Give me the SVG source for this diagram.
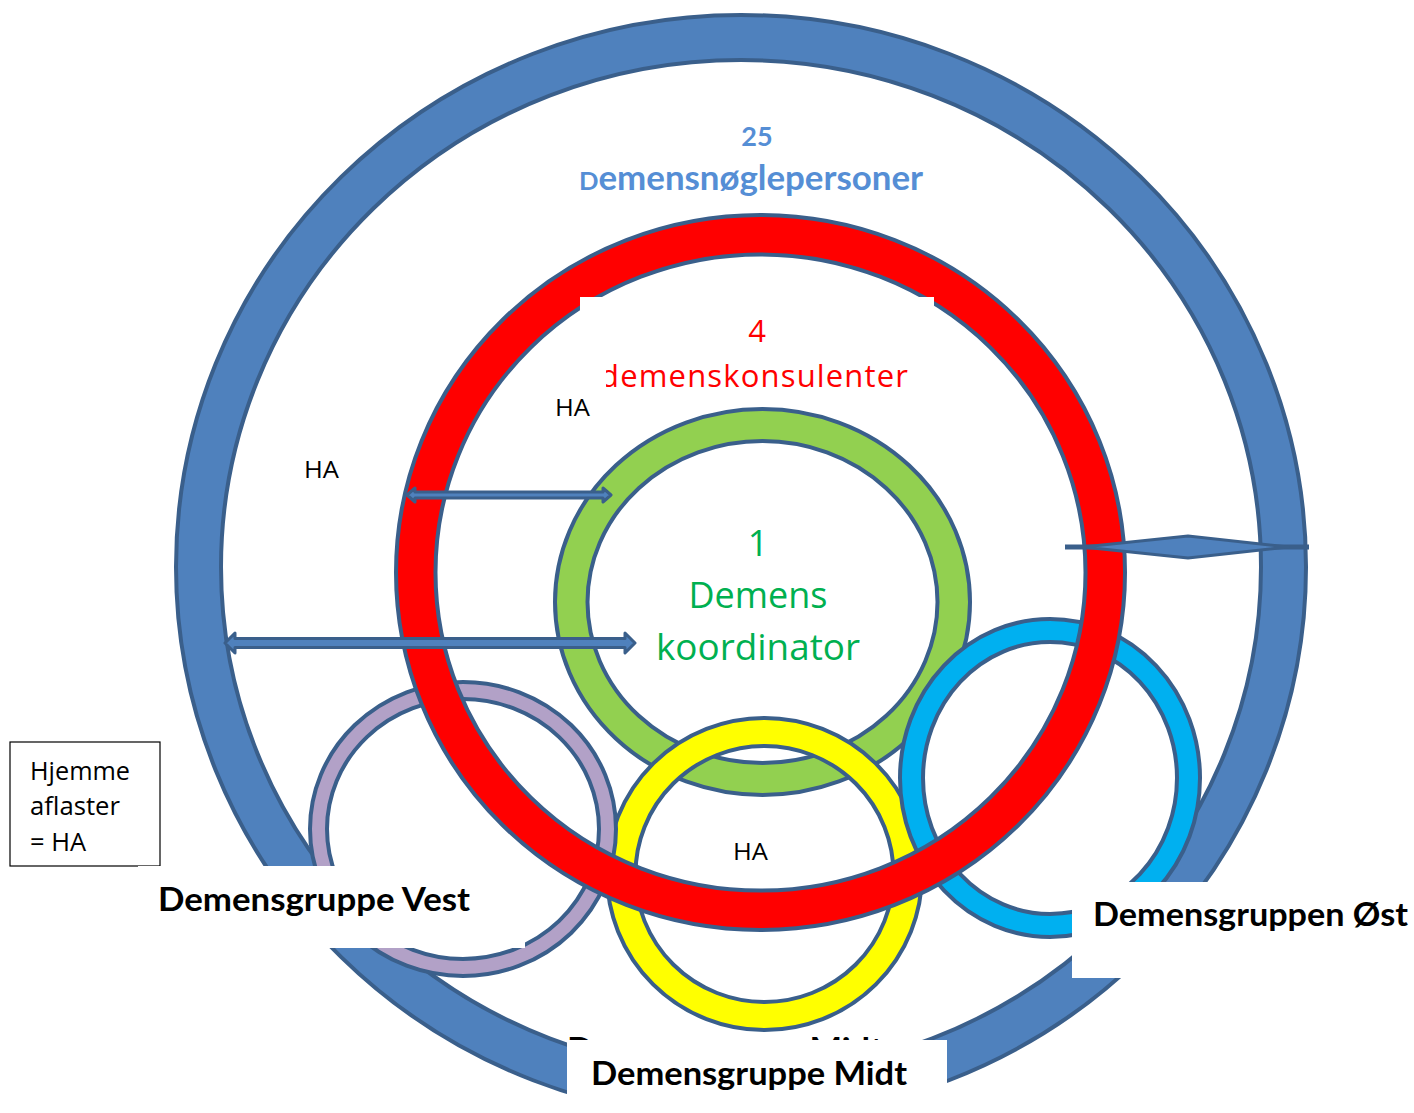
<svg xmlns="http://www.w3.org/2000/svg" width="1414" height="1113" viewBox="0 0 1414 1113">
<style>
.ring{stroke:#3A5F8B;stroke-width:4;fill-rule:evenodd}
.arr{fill:#4F81BD;stroke:#3A5F8B;stroke-width:3;stroke-linejoin:round}
.lbl{font-family:Lato,"Open Sans","Liberation Sans",sans-serif;font-weight:bold;font-size:32px;fill:#000}
.ha{font-family:"Open Sans","Liberation Sans",sans-serif;font-size:23px;fill:#000}
.leg{font-family:"Open Sans","Liberation Sans",sans-serif;font-size:25px;fill:#000}
.blue{font-family:Lato,"Open Sans","Liberation Sans",sans-serif;font-weight:bold;fill:#558ED5}
.red{font-family:"Open Sans","Liberation Sans",sans-serif;fill:#FF0000}
.green{font-family:"Open Sans","Liberation Sans",sans-serif;fill:#00B050;font-size:36px}
.wbox{fill:#FFFFFF}
</style>
<defs>
<clipPath id="clipKons"><rect x="606" y="340" width="320" height="70"/></clipPath>
</defs>
<rect width="1414" height="1113" fill="#FFFFFF"/>

<g id="ring-blue">
<path class="ring" fill="#4F81BD" d="M176,567 a565,552 0 1,0 1130,0 a565,552 0 1,0 -1130,0 Z M221,567 a520,507 0 1,0 1040,0 a520,507 0 1,0 -1040,0 Z"/>
</g>
<g id="ring-green">
<path class="ring" fill="#92D050" d="M555,602 a207.5,193 0 1,0 415,0 a207.5,193 0 1,0 -415,0 Z M587.5,602 a175,161 0 1,0 350,0 a175,161 0 1,0 -350,0 Z"/>
</g>
<g id="ring-yellow">
<path class="ring" fill="#FFFF00" d="M607,874 a157.5,156 0 1,0 315,0 a157.5,156 0 1,0 -315,0 Z M635.5,874 a129,128 0 1,0 258,0 a129,128 0 1,0 -258,0 Z"/>
</g>
<g id="ring-cyan">
<path class="ring" fill="#00B0F0" d="M900,778 a150,159 0 1,0 300,0 a150,159 0 1,0 -300,0 Z M923,778 a127,136 0 1,0 254,0 a127,136 0 1,0 -254,0 Z"/>
</g>
<g id="ring-purple">
<path class="ring" fill="#B2A1C7" d="M310,829 a153,147 0 1,0 306,0 a153,147 0 1,0 -306,0 Z M327,829 a136,130 0 1,0 272,0 a136,130 0 1,0 -272,0 Z"/>
</g>
<g id="ring-red">
<path class="ring" fill="#FF0000" d="M396,572.5 a364.5,357.5 0 1,0 729,0 a364.5,357.5 0 1,0 -729,0 Z M435.5,572.5 a325,318 0 1,0 650,0 a325,318 0 1,0 -650,0 Z"/>
</g>

<g id="connectors">
<polygon class="arr" points="407,495 415,488 415,492 603,492 603,488 611,495 603,502 603,498 415,498 415,502"/>
<polygon class="arr" points="225,643 235,633 235,638.5 625,638.5 625,633 635,643 625,653 625,647.5 235,647.5 235,653"/>
<line x1="1065" y1="547" x2="1309" y2="547" stroke="#3A5F8B" stroke-width="5"/>
<polygon class="arr" stroke-width="4" points="1083,547 1188,536 1288,547 1188,558"/>
</g>

<g id="label-outer">
<text class="blue" x="757" y="146" font-size="27" text-anchor="middle">25</text>
<text class="blue" x="579" y="190" font-size="34" textLength="344" lengthAdjust="spacingAndGlyphs"><tspan font-size="25">D</tspan>emensnøglepersoner</text>
</g>

<g id="label-red">
<rect class="wbox" x="580" y="297" width="354" height="100"/>
<text class="red" x="757" y="342" font-size="31" text-anchor="middle">4</text>
<g clip-path="url(#clipKons)">
<text class="red" x="600" y="387" font-size="31" textLength="308" lengthAdjust="spacing">demenskonsulenter</text>
</g>
</g>

<g id="label-green">
<text class="green" x="758" y="556" text-anchor="middle">1</text>
<text class="green" x="758" y="608" text-anchor="middle" textLength="139" lengthAdjust="spacingAndGlyphs">Demens</text>
<text class="green" x="758" y="660" text-anchor="middle" textLength="204" lengthAdjust="spacingAndGlyphs">koordinator</text>
</g>

<g id="ha-labels">
<text class="ha" x="555" y="416" textLength="35" lengthAdjust="spacingAndGlyphs">HA</text>
<text class="ha" x="304" y="478" textLength="35" lengthAdjust="spacingAndGlyphs">HA</text>
<text class="ha" x="733" y="860" textLength="35" lengthAdjust="spacingAndGlyphs">HA</text>
</g>

<g id="legend">
<rect x="10" y="742" width="150" height="124" fill="#FFFFFF" stroke="#000000" stroke-width="1.2"/>
<text class="leg" x="30" y="780" textLength="100" lengthAdjust="spacingAndGlyphs">Hjemme</text>
<text class="leg" x="30" y="815" textLength="90" lengthAdjust="spacingAndGlyphs">aflaster</text>
<text class="leg" x="30" y="851" textLength="56" lengthAdjust="spacingAndGlyphs">= HA</text>
</g>

<g id="group-vest">
<rect class="wbox" x="138" y="866" width="387" height="82"/>
<text class="lbl" x="158" y="911" textLength="312" lengthAdjust="spacingAndGlyphs">Demensgruppe Vest</text>
</g>

<g id="group-ost">
<rect class="wbox" x="1072" y="882" width="342" height="96"/>
<text class="lbl" x="1093" y="926" textLength="315" lengthAdjust="spacingAndGlyphs">Demensgruppen Øst</text>
</g>

<g id="group-midt">
<text class="lbl" x="567" y="1061" textLength="316" lengthAdjust="spacingAndGlyphs">Demensgruppe Midt</text>
<rect class="wbox" x="567" y="1040" width="380" height="73"/>
<text class="lbl" x="591" y="1085" textLength="316" lengthAdjust="spacingAndGlyphs">Demensgruppe Midt</text>
</g>
</svg>
